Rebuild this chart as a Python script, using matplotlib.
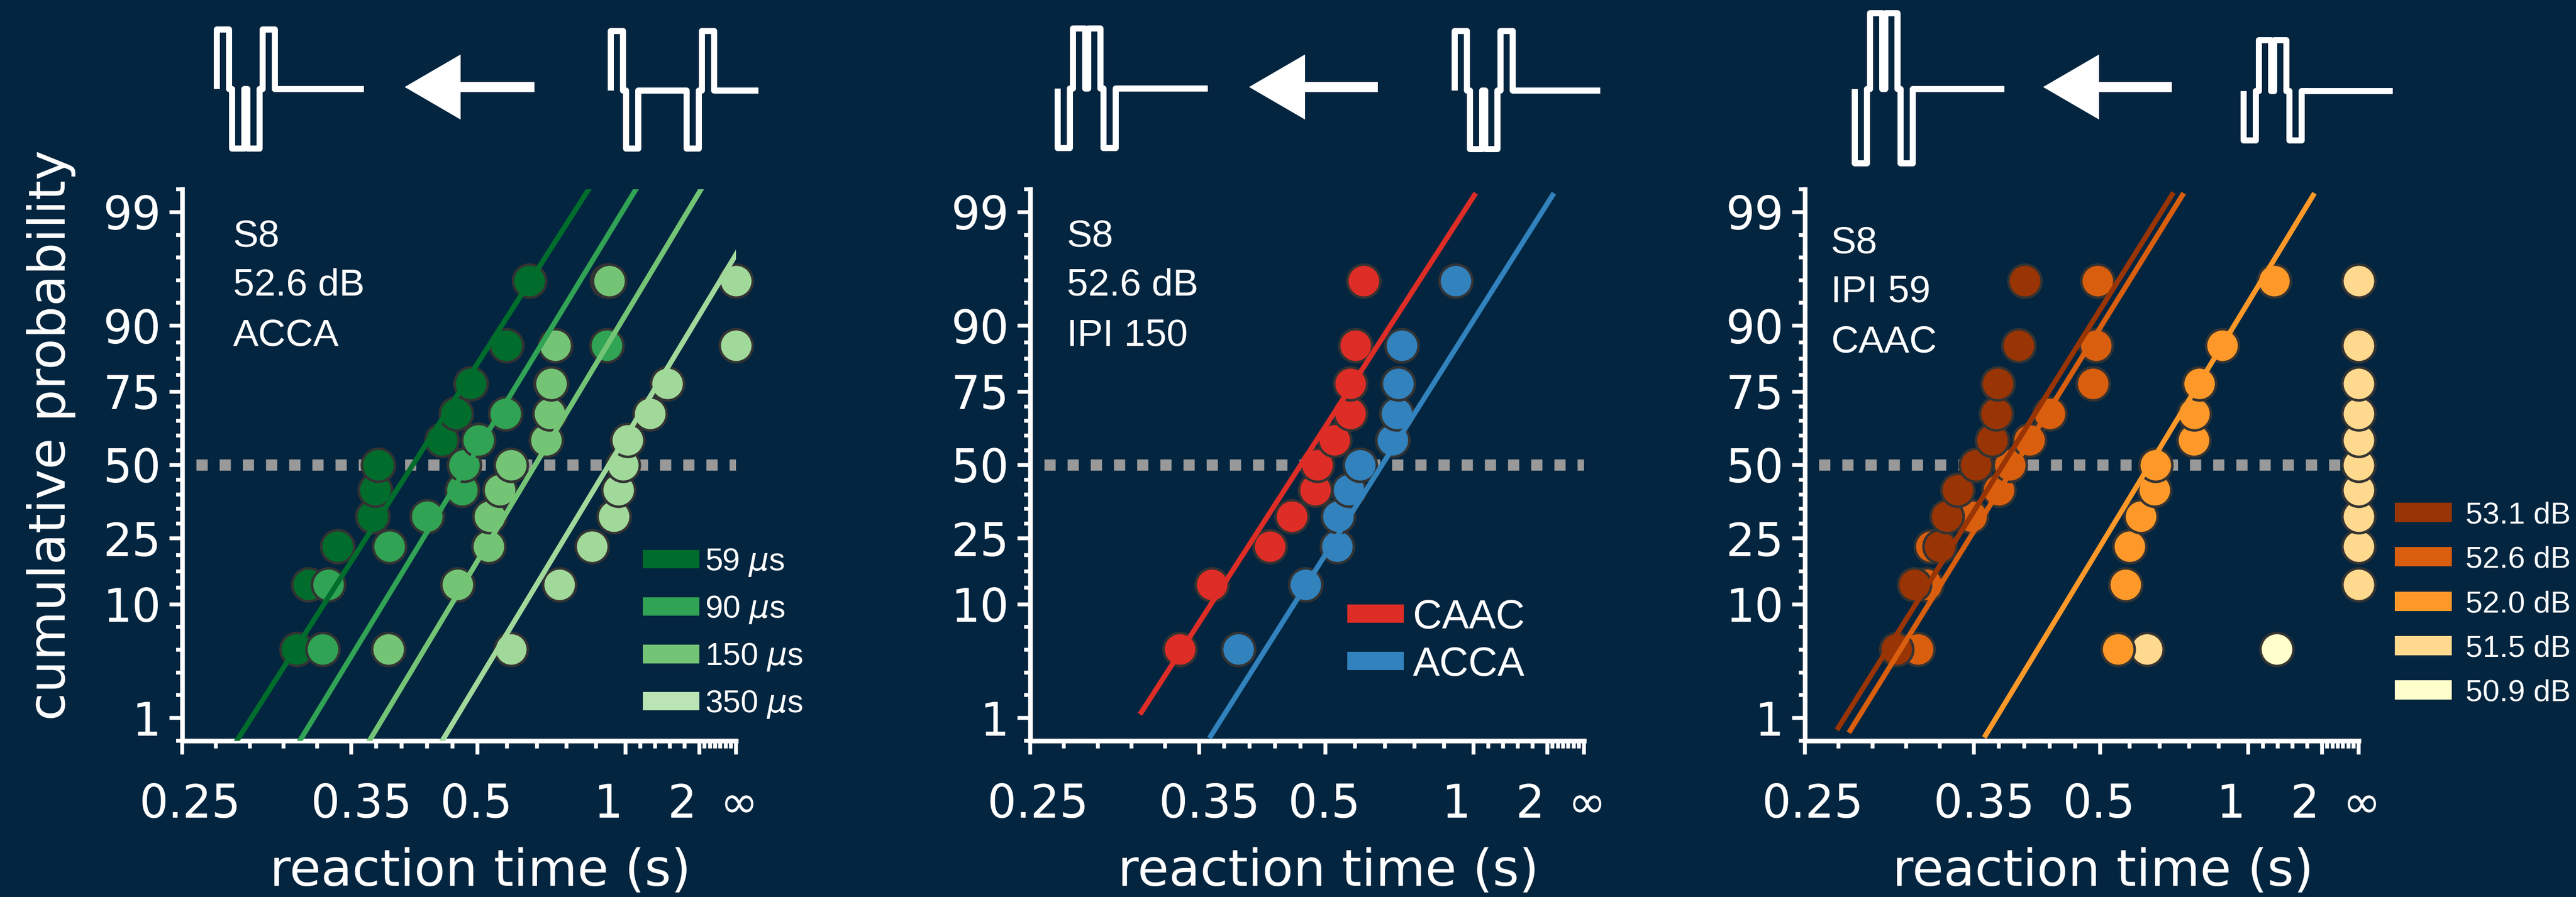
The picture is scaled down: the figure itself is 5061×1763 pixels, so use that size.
import numpy as np
import matplotlib
matplotlib.use("Agg")
import matplotlib.pyplot as plt
from matplotlib.patches import Rectangle, Polygon
from statistics import NormalDist

W_PX, H_PX, DPI = 5061, 1763, 300
BG = "#03253f"
TXT_FONT = "Liberation Sans"

# cumulative probability (%) of ranked trials, 11 trials per condition
levels = [4.5, 13.6, 22.7, 31.8, 40.9, 50.0, 59.1, 68.2, 77.3, 86.4, 95.5]

# panel 1: ACCA, inter-pulse interval varied (reaction times in s)
ipi_names = ["59 $\\mu$s", "90 $\\mu$s", "150 $\\mu$s", "350 $\\mu$s"]
ipi_colors = ["#006d2c", "#31a354", "#74c476", "#a1d99b"]
ipi_key_colors = ["#006d2c", "#31a354", "#74c476", "#bae4b3"]
ipi_rt = [
    [0.310, 0.318, 0.339, 0.369, 0.371, 0.374, 0.446, 0.466, 0.489, 0.554, 0.606],
    [0.328, 0.332, 0.385, 0.427, 0.475, 0.478, 0.501, 0.552, 0.665, 0.889, 0.890],
    [0.384, 0.468, 0.519, 0.521, 0.541, 0.564, 0.651, 0.661, 0.666, 0.679, 0.901],
    [0.564, 0.691, 0.815, 0.927, 0.955, 0.983, 1.016, 1.198, 1.398, np.inf, np.inf],
]
ipi_median = [0.410, 0.484, 0.621, 0.899]
ipi_slope = [2.13, 2.23, 2.26, 2.25]
ipi_fit_lo = [0.3, 0.3, 0.3, 0.3]
ipi_fit_hi = [99.7, 99.7, 99.7, 99.7]

# panel 2: polarity order, IPI 150
pol_names = ["CAAC", "ACCA"]
pol_colors = ["#de2d26", "#3182bd"]
pol_rt = [
    [0.335, 0.361, 0.421, 0.449, 0.483, 0.486, 0.516, 0.546, 0.546, 0.556, 0.574],
    [0.386, 0.468, 0.520, 0.522, 0.543, 0.566, 0.647, 0.658, 0.663, 0.674, 0.893],
]
pol_median = [0.461, 0.618]
pol_slope = [2.11, 2.15]
pol_fit_lo = [1.09, 0.6]
pol_fit_hi = [99.38, 99.38]

# panel 3: CAAC, IPI 59, level varied
lvl_names = ["53.1 dB", "52.6 dB", "52.0 dB", "51.5 dB", "50.9 dB"]
lvl_colors = ["#993404", "#d95f0e", "#fe9929", "#fed98e", "#ffffcc"]
lvl_rt = [
    [0.296, 0.307, 0.324, 0.329, 0.337, 0.352, 0.366, 0.370, 0.371, 0.392, 0.398],
    [0.309, 0.315, 0.318, 0.348, 0.372, 0.383, 0.403, 0.427, 0.488, 0.493, 0.495],
    [0.532, 0.547, 0.555, 0.579, 0.612, 0.615, 0.732, 0.733, 0.752, 0.851, 1.215],
    [0.594, np.inf, np.inf, np.inf, np.inf, np.inf, np.inf, np.inf, np.inf, np.inf, np.inf],
    [1.24],
]
lvl_median = [0.376, 0.388, 0.600]
lvl_slope = [2.17, 2.19, 2.24]
lvl_fit_lo = [0.74, 0.69, 0.61]
lvl_fit_hi = [99.39, 99.38, 99.38]

# axis ticks
x_major_rt = [0.25, 0.35, 0.5, 1, 2, 4]
x_minor_steps = [5, 5, 5, 5, 7]
x_tick_text = ["0.25", "0.35", "0.5", "1", "2", "\u221e"]
x_text_nudge_px = [15, 20, -3, -34, -34, 5]
y_major_pct = [1, 10, 25, 50, 75, 90, 99]
y_minor_steps = [5, 4, 5, 5, 4, 5]


def probit(p):
    return NormalDist().inv_cdf(p / 100.0)


x_major = [-1.0 / r for r in x_major_rt]
x_minor = np.concatenate([np.linspace(a, b, n + 1)[1:-1]
                          for a, b, n in zip(x_major[:-1], x_major[1:], x_minor_steps)])
X_LEFT, X_RIGHT = x_major[0], x_major[-1]

y_major = [probit(p) for p in y_major_pct]
Y_TOP = y_major[-1] + (y_major[-1] - y_major[-2]) / 5
y_minor = np.concatenate([np.linspace(a, b, n + 1)[1:-1]
                          for a, b, n in zip(y_major[:-1], y_major[1:], y_minor_steps)]
                         + [[-Y_TOP, Y_TOP]])

PT = 72.0 / DPI  # points per pixel


def rt_to_x(rts):
    rts = np.asarray(rts, dtype=float)
    return np.minimum(-1.0 / rts, X_RIGHT)


def setup(ax, ylabel=False):
    ax.set_facecolor(BG)
    ax.set_xlim(X_LEFT, X_RIGHT)
    ax.set_ylim(-Y_TOP, Y_TOP)
    for s in ["top", "right"]:
        ax.spines[s].set_visible(False)
    for s in ["left", "bottom"]:
        ax.spines[s].set_color("white")
        ax.spines[s].set_linewidth(2.2)
    ax.set_xticks(x_major, labels=[""] * len(x_major))
    ax.set_xticks(x_minor, minor=True)
    ax.set_yticks(y_major, labels=[str(p) for p in y_major_pct])
    ax.set_yticks(y_minor, minor=True)
    ax.tick_params(which="both", direction="out", color="white", width=1.8,
                   labelcolor="white", labelsize=21.5)
    ax.tick_params(axis="x", which="major", length=6.5)
    ax.tick_params(axis="x", which="minor", length=3.6)
    ax.tick_params(axis="y", which="major", length=6, pad=4)
    ax.tick_params(axis="y", which="minor", length=2.9)
    for xv, lab, dx in zip(x_major, x_tick_text, x_text_nudge_px):
        ax.annotate(lab, xy=(xv, 0), xycoords=("data", "axes fraction"),
                    xytext=(dx * PT, -151 * PT), textcoords="offset points",
                    ha="center", va="baseline", color="white", fontsize=21.5,
                    annotation_clip=False)
    ax.text(0.5385, -0.2633, "reaction time (s)", transform=ax.transAxes,
            ha="center", va="baseline", color="white", fontsize=24)
    if ylabel:
        ax.text(-0.2111, 0.5544, "cumulative probability", transform=ax.transAxes,
                rotation=90, rotation_mode="anchor", ha="center", va="baseline",
                color="white", fontsize=24)
    # 50 % reference line
    ax.axhline(0, xmin=0.026, xmax=1.0, color="#999999", lw=22 * PT,
               ls=(0, (1.0, 1.07)), dash_capstyle="butt", zorder=1)


def draw_points(ax, rts, color, z):
    ax.plot(rt_to_x(rts), [probit(p) for p in levels[:len(rts)]], "o", ls="none",
            ms=65 * PT, mfc=color, mec="#333333", mew=5 * PT, clip_on=False, zorder=z)


def draw_fit(ax, median, slope, lo, hi, color):
    zz = np.array([probit(lo), probit(hi)])
    xx = -1.0 / median + zz / slope
    ax.plot(xx, zz, color=color, lw=10 * PT, solid_capstyle="butt", zorder=20)


def notes(ax, lines, x, baselines):
    for t, y in zip(lines, baselines):
        ax.text(x, y, t, transform=ax.transAxes, ha="left", va="baseline",
                color="white", fontsize=18, family=TXT_FONT)


def key(ax, names, colors, x0, x1, xt, rows, h, fs):
    ax_h = ax.get_position().height * H_PX
    cap = 0.716 * fs / PT / ax_h
    for name, c, y in zip(names, colors, rows):
        ax.add_patch(Rectangle((x0, y - h / 2), x1 - x0, h, transform=ax.transAxes,
                               facecolor=c, edgecolor="none", clip_on=False))
        ax.text(xt, y - cap / 2, name, transform=ax.transAxes, ha="left",
                va="baseline", color="white", fontsize=fs, family=TXT_FONT)


def pulse_train(ov, x0, base, seq, up, down, end, w=24, g=6):
    xs, ys = [x0], [base]
    x = x0
    prev = False
    for tok in seq:
        if tok in ("A", "C"):
            if prev:
                x += g
                xs.append(x)
                ys.append(base)
            h = base - up if tok == "A" else base + down
            xs += [x, x + w, x + w]
            ys += [h, h, base]
            x += w
            prev = True
        else:
            x += tok
            xs.append(x)
            ys.append(base)
            prev = False
    xs.append(end)
    ys.append(base)
    ov.plot(xs, ys, color="white", lw=12 * PT, solid_joinstyle="round",
            solid_capstyle="butt")


def arrow(ov, tip, neck, tail, yc=171):
    pts = [(tip, yc), (neck, yc - 64), (neck, yc - 10), (tail, yc - 10),
           (tail, yc + 10), (neck, yc + 10), (neck, yc + 64)]
    ov.add_patch(Polygon(pts, closed=True, facecolor="white", edgecolor="none"))


fig = plt.figure(figsize=(W_PX / DPI, H_PX / DPI), dpi=DPI, facecolor=BG)

# overlay in pixel coordinates for the stimulus icons
ov = fig.add_axes([0, 0, 1, 1])
ov.set_xlim(0, W_PX)
ov.set_ylim(H_PX, 0)
ov.axis("off")

pulse_train(ov, 426, 175, ["A", "C", "C", "A"], 117, 117, 715)
arrow(ov, 795, 905, 1050)
pulse_train(ov, 1200, 178, ["A", "C", 95, "C", "A"], 117, 114, 1490)

pulse_train(ov, 2078, 174, ["C", "A", "A", "C"], 118, 117, 2373)
arrow(ov, 2454, 2564, 2707)
pulse_train(ov, 2858, 178, ["A", "C", "C", "A"], 117, 115, 3144)

pulse_train(ov, 3644, 175, ["C", "A", "A", "C"], 149, 146, 3938)
arrow(ov, 4014, 4124, 4267)
pulse_train(ov, 4408, 179, ["C", "A", "A", "C"], 100, 97, 4701)

ax_w = 1088.6 / W_PX
ax_b = (H_PX - 1455.7) / H_PX
ax_h = 1083.5 / H_PX
ax1 = fig.add_axes([357.8 / W_PX, ax_b, ax_w, ax_h])
ax2 = fig.add_axes([2023.8 / W_PX, ax_b, ax_w, ax_h])
ax3 = fig.add_axes([3545.8 / W_PX, ax_b, ax_w, ax_h])

# panel 1
setup(ax1, ylabel=True)
for i, (rts, c) in enumerate(zip(ipi_rt, ipi_colors)):
    draw_points(ax1, rts, c, 5 + i)
for m, s, lo, hi, c in zip(ipi_median, ipi_slope, ipi_fit_lo, ipi_fit_hi, ipi_colors):
    draw_fit(ax1, m, s, lo, hi, c)
notes(ax1, ["S8", "52.6 dB", "ACCA"], 0.092, [0.8959, 0.8082, 0.7166])
key(ax1, ipi_names, ipi_key_colors, 0.8315, 0.9335, 0.9436,
    [0.3292, 0.2434, 0.1575, 0.0717], 0.0341, 15)

# panel 2
setup(ax2)
for i, (rts, c) in enumerate(zip(pol_rt, pol_colors)):
    draw_points(ax2, rts, c, 5 + i)
for m, s, lo, hi, c in zip(pol_median, pol_slope, pol_fit_lo, pol_fit_hi, pol_colors):
    draw_fit(ax2, m, s, lo, hi, c)
notes(ax2, ["S8", "52.6 dB", "IPI 150"], 0.066, [0.8959, 0.8082, 0.7166])
key(ax2, pol_names, pol_colors, 0.5725, 0.6745, 0.6910, [0.2301, 0.1443], 0.0332, 19)

# panel 3 (louder levels drawn on top)
setup(ax3)
for i, (rts, c) in enumerate(zip(lvl_rt, lvl_colors)):
    draw_points(ax3, rts, c, 10 - i)
for m, s, lo, hi, c in zip(lvl_median, lvl_slope, lvl_fit_lo, lvl_fit_hi, lvl_colors):
    draw_fit(ax3, m, s, lo, hi, c)
notes(ax3, ["S8", "IPI 59", "CAAC"], 0.047, [0.8847, 0.7957, 0.7048])
key(ax3, lvl_names, lvl_colors, 1.0648, 1.1677, 1.1925,
    [0.4141, 0.3338, 0.2526, 0.1723, 0.0920], 0.0348, 14.4)

fig.savefig("out.png", dpi=DPI, facecolor=BG)
